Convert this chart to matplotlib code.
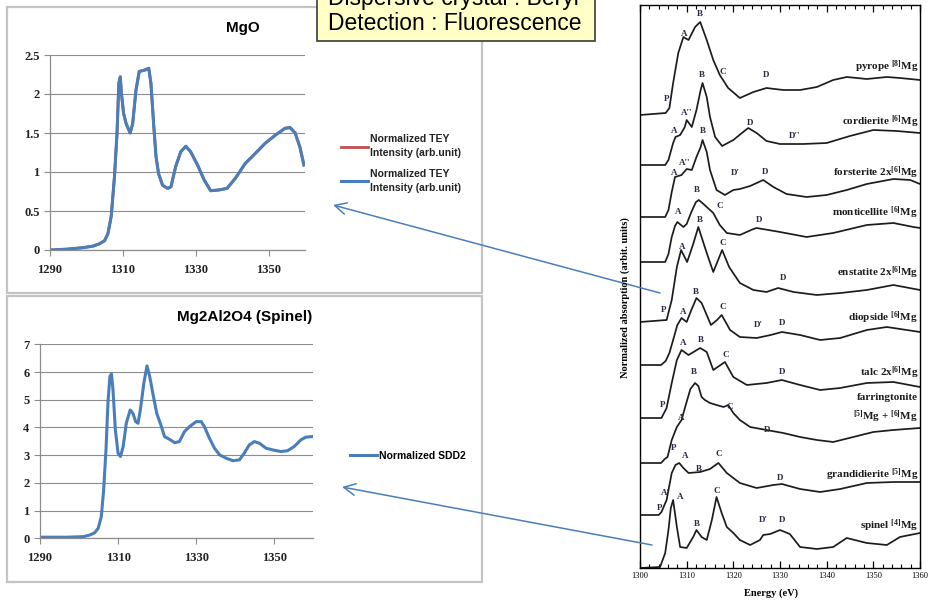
import matplotlib
matplotlib.use('Agg')
import matplotlib.pyplot as plt
from matplotlib.patches import Rectangle, FancyArrowPatch
from matplotlib.ticker import MultipleLocator, FormatStrFormatter
import numpy as np

plt.rcParams['mathtext.fontset'] = 'custom'
plt.rcParams['mathtext.rm'] = 'Liberation Serif:bold'
plt.rcParams['mathtext.it'] = 'Liberation Serif:italic:bold'
plt.rcParams['mathtext.bf'] = 'Liberation Serif:bold'

# ---- left top: MgO, TEY ----
mgo_e = [1290, 1294.5, 1299.1, 1301.8, 1303.6, 1305, 1305.9, 1306.8, 1307.7, 1308.4,
         1308.9, 1309.3, 1309.6, 1310.2, 1310.9, 1312, 1312.7, 1313.6, 1314.5, 1315.5,
         1316.2, 1317.1, 1317.7, 1318.5, 1319.1, 1319.8, 1320.9, 1322.3, 1323.2, 1324.5,
         1325.9, 1327.3, 1328.6, 1330.5, 1332.3, 1334.1, 1336.4, 1338.6, 1340.9, 1343.6,
         1346.4, 1349.1, 1351.8, 1354.5, 1355.9, 1357.3, 1358.6, 1359.7]
mgo_tey = [0, 0.01, 0.03, 0.05, 0.08, 0.12, 0.21, 0.43, 0.94, 1.5,
           2.14, 2.22, 2.01, 1.75, 1.62, 1.5, 1.62, 2.05, 2.29, 2.30,
           2.31, 2.33, 2.14, 1.58, 1.2, 0.98, 0.83, 0.79, 0.81, 1.07,
           1.26, 1.33, 1.26, 1.09, 0.9, 0.76, 0.77, 0.79, 0.92, 1.11,
           1.24, 1.37, 1.47, 1.56, 1.57, 1.50, 1.32, 1.09]

# ---- left bottom: spinel, SDD2 ----
sp_e = [1290, 1296.8, 1301.1, 1302.8, 1304, 1304.9, 1305.7, 1306.3, 1306.9, 1307.4,
        1307.9, 1308.3, 1308.7, 1309.3, 1310, 1310.6, 1311.3, 1312.1, 1313.1, 1313.8,
        1314.5, 1315.1, 1315.7, 1316.6, 1317.4, 1318.1, 1318.9, 1319.9, 1321.1, 1321.9,
        1323.2, 1324.5, 1325.7, 1327, 1328.3, 1330, 1331.3, 1332.1, 1333.4, 1334.7,
        1336, 1337.7, 1339.4, 1341.1, 1342.3, 1343.6, 1344.9, 1346.2, 1347.9, 1349.6,
        1351.7, 1353.4, 1355.1, 1356.8, 1358.1, 1359.8]
sp_sdd2 = [0.04, 0.04, 0.06, 0.12, 0.2, 0.36, 0.78, 1.74, 3.19, 4.87,
           5.84, 5.93, 5.35, 3.91, 3.07, 2.95, 3.31, 4.15, 4.63, 4.51,
           4.21, 4.15, 4.63, 5.6, 6.22, 5.84, 5.23, 4.51, 4.03, 3.67,
           3.57, 3.45, 3.49, 3.85, 4.03, 4.21, 4.21, 4.03, 3.61, 3.25,
           3.01, 2.89, 2.80, 2.83, 3.07, 3.37, 3.49, 3.43, 3.25, 3.19,
           3.13, 3.16, 3.31, 3.55, 3.65, 3.67]

# ---- right: reference Mg K-edge XANES (intensity above own pre-edge) ----
pyrope_e = [1300, 1305.5, 1306.3, 1307.1, 1308.2, 1309.3, 1310.4, 1311.8, 1312.9, 1314.3,
            1315.7, 1317.1, 1318.9, 1321.4, 1324.3, 1327.1, 1330.7, 1334.3, 1337.9, 1341.4,
            1344.3, 1348.6, 1352.9, 1355.7, 1360]
pyrope_y = [0, 2, 7, 32, 62, 78, 75, 88, 93, 75, 55, 40, 27, 17, 23, 27, 25, 25, 28, 35,
            38, 36, 38, 37, 35]
cordierite_e = [1300, 1305.4, 1306.1, 1307.1, 1307.6, 1308.6, 1309.6, 1310.0, 1311.1, 1312.1,
                1313.0, 1313.4, 1314.3, 1315.0, 1316.1, 1317.6, 1320, 1322.1, 1323.2, 1325.0,
                1327.1, 1330, 1335, 1340, 1345, 1350, 1355, 1360]
cordierite_y = [0, 0, 5, 22, 28, 30, 38, 45, 38, 55, 75, 82, 68, 48, 28, 19, 25, 33, 37, 32,
                24, 21, 21, 22, 29, 35, 34, 32]
forsterite_e = [1300, 1305.4, 1306.1, 1306.8, 1307.5, 1308.9, 1310, 1311.1, 1312.1, 1313.0,
                1313.4, 1314.3, 1315, 1316.4, 1318.2, 1320, 1321.4, 1323.6, 1326.4, 1328.6,
                1331.4, 1335.7, 1340, 1344.3, 1348.6, 1354.3, 1357.9, 1360]
forsterite_y = [0, 0, 7, 25, 40, 42, 48, 47, 60, 70, 77, 65, 47, 27, 22, 27, 28, 31, 37, 30,
                23, 20, 22, 27, 33, 38, 37, 33]
monticellite_e = [1300, 1305.4, 1306.1, 1306.8, 1307.5, 1308, 1309.3, 1310, 1311, 1312,
                  1312.6, 1313.6, 1315, 1315.7, 1317.1, 1318.6, 1321.4, 1324.3, 1325, 1330,
                  1335.7, 1341.4, 1348.6, 1354.3, 1358.6, 1360]
monticellite_y = [0, 0, 8, 25, 36, 40, 35, 38, 50, 60, 62, 58, 52, 49, 37, 29, 27, 33, 34, 30,
                  25, 29, 37, 39, 35, 34]
enstatite_e = [1300, 1305.7, 1306.8, 1307.9, 1308.8, 1310.1, 1311.4, 1312.5, 1314.3, 1315.7,
               1317.6, 1319.1, 1321.4, 1324.3, 1327.1, 1329.6, 1332.9, 1337.9, 1343, 1348.6,
               1354.3, 1360]
enstatite_y = [0, 2, 22, 55, 72, 60, 78, 95, 69, 50, 72, 55, 39, 32, 30, 34, 30, 27, 29, 32,
               37, 32]
diopside_e = [1300, 1304.5, 1305.5, 1306.3, 1307.1, 1308, 1308.9, 1310, 1311, 1312.1,
              1313.2, 1314.3, 1315.2, 1316.5, 1317.5, 1319.3, 1321.4, 1325, 1328, 1330.4,
              1334.3, 1338.6, 1342.9, 1348.6, 1352.9, 1360]
diopside_y = [0, 0, 4, 12, 25, 40, 47, 43, 55, 67, 62, 50, 40, 45, 50, 35, 28, 27, 30, 33,
              30, 25, 27, 35, 38, 33]
talc_e = [1300, 1304.6, 1305.7, 1306.8, 1307.9, 1308.9, 1310.4, 1312.9, 1314.3, 1315.7,
          1318.2, 1320, 1322.9, 1327.1, 1330.4, 1334.3, 1338.6, 1342.9, 1348.6, 1354.3, 1360]
talc_y = [0, 0, 10, 35, 58, 68, 63, 70, 66, 48, 56, 41, 33, 35, 38, 33, 28, 30, 35, 36, 31]
farringtonite_e = [1300, 1304.5, 1305.3, 1305.9, 1306.8, 1307.9, 1308.9, 1309.8, 1310.8, 1311.8,
                   1312.5, 1313.2, 1313.9, 1315, 1316.4, 1317.9, 1318.9, 1320, 1321.4, 1323.6,
                   1327.1, 1330.7, 1334.3, 1337.9, 1341.4, 1345.7, 1350, 1354.3, 1360]
farringtonite_y = [0, 0, 4, 6, 23, 36, 43, 58, 74, 80, 77, 66, 63, 60, 58, 56, 58, 50, 43, 36,
                   33, 30, 26, 23, 21, 26, 31, 33, 35]
grandidierite_e = [1300, 1304, 1304.6, 1305.7, 1306.8, 1307.6, 1308.4, 1309.3, 1310.4, 1312.9,
                   1315, 1316.8, 1318.6, 1321.4, 1325, 1328.6, 1330.4, 1334.3, 1338.6, 1342.9,
                   1348.6, 1354.3, 1360]
grandidierite_y = [0, 0, 3, 15, 42, 50, 52, 47, 42, 43, 46, 52, 42, 32, 27, 30, 31, 26, 23, 26,
                   32, 33, 33]
spinel_e = [1300, 1304.3, 1305.4, 1306.1, 1306.6, 1307.1, 1307.9, 1308.6, 1310, 1311.4,
            1312.1, 1313.2, 1314.3, 1315.4, 1316.4, 1317.5, 1318.6, 1320, 1321.4, 1323.6,
            1325.7, 1326.4, 1327.9, 1330, 1332.1, 1334.3, 1337.9, 1341.4, 1344.3, 1348.6,
            1352.9, 1355.7, 1360]
spinel_y = [0, 1, 15, 38, 60, 68, 41, 21, 20, 31, 38, 31, 28, 48, 71, 55, 41, 35, 28, 23,
            28, 33, 34, 38, 34, 21, 19, 21, 30, 25, 23, 31, 35]

stack_offsets = [453, 403, 351, 306, 246, 203, 150, 105, 53, 0]
mineral_names = ['pyrope $^{[8]}$Mg', 'cordierite $^{[6]}$Mg', 'forsterite 2x$^{[6]}$Mg',
                 'monticellite $^{[6]}$Mg', 'enstatite 2x$^{[6]}$Mg', 'diopside $^{[6]}$Mg',
                 'talc 2x$^{[6]}$Mg', 'farringtonite\n$^{[5]}$Mg + $^{[6]}$Mg',
                 'grandidierite $^{[5]}$Mg', 'spinel $^{[4]}$Mg']
name_heights = [501, 446, 395, 355, 295, 250, 195, 159, 93, 42]

# peak letters: (letter, energy, height)
peak_labels = [
    ('P', 1305.6, 469), ('A', 1309.4, 534), ('B', 1312.9, 554), ('C', 1317.8, 496), ('D', 1327.0, 493),
    ('A', 1307.3, 437), ("A''", 1309.9, 455), ('B', 1313.3, 493), ('D', 1323.6, 445), ("D''", 1333.2, 432),
    ('A', 1307.3, 395), ("A''", 1309.6, 405), ('B', 1313.5, 437), ("D'", 1320.4, 395), ('D', 1326.8, 396),
    ('A', 1308.1, 356), ('B', 1312.2, 378), ('C', 1317.1, 362), ('D', 1325.5, 348),
    ('A', 1309.0, 321), ('B', 1312.9, 348), ('C', 1317.8, 325), ('D', 1330.6, 290),
    ('P', 1305.1, 258), ('A', 1309.2, 256), ('B', 1312.0, 276), ('C', 1317.8, 261), ("D'", 1325.3, 243), ('D', 1330.4, 245),
    ('A', 1309.2, 225), ('B', 1313.1, 228), ('C', 1318.4, 213), ('D', 1330.4, 196),
    ('P', 1304.9, 163), ('A', 1308.8, 150), ('B', 1311.6, 196), ('C', 1319.3, 161), ('D', 1327.2, 138),
    ('P', 1307.1, 120), ('A', 1309.6, 112), ('B', 1312.6, 99), ('C', 1316.9, 114), ('D', 1330.0, 90),
    ('P', 1304.3, 60), ("A'", 1305.4, 75), ('A', 1308.6, 71), ('B', 1312.2, 44), ('C', 1316.5, 77),
    ("D'", 1326.4, 48), ('D', 1330.4, 48),
]

W, H = 933, 604


def fxy(px, py):
    return px / W, 1 - py / H


fig = plt.figure(figsize=(W / 100, H / 100), dpi=100)

# chart frames on the left
for x0, y0, x1, y1 in [(7, 7, 482, 293), (7, 296, 482, 582)]:
    fig.add_artist(Rectangle(fxy(x0, y1), (x1 - x0) / W, (y1 - y0) / H,
                             transform=fig.transFigure, fill=False,
                             ec='#c4c4c4', lw=1.6))

excel_blue = '#4a7ebb'
grey = '#8c8c8c'
tick_font = dict(family='Liberation Serif', size=9)


def excel_axes(ax):
    for s in ['top', 'right']:
        ax.spines[s].set_visible(False)
    for s in ['left', 'bottom']:
        ax.spines[s].set_color(grey)
        ax.spines[s].set_linewidth(0.9)
    ax.yaxis.grid(True, color=grey, lw=0.8)
    ax.set_axisbelow(True)
    ax.tick_params(colors=grey, labelcolor='#222222', length=4, width=0.8)
    for lab in ax.get_xticklabels() + ax.get_yticklabels():
        lab.set_fontfamily(tick_font['family'])
        lab.set_fontsize(tick_font['size'])
        lab.set_fontweight('bold')
    ax.tick_params(axis='x', pad=6)


# MgO
ax1 = fig.add_axes([50 / W, 1 - 250 / H, 255 / W, 195 / H])
l_red, = ax1.plot(mgo_e, mgo_tey, color='#c0504d', lw=2.0)
l_blue, = ax1.plot(mgo_e, mgo_tey, color=excel_blue, lw=2.2)
ax1.set_xlim(1290, 1360)
ax1.set_ylim(0, 2.5)
ax1.set_xticks([1290, 1310, 1330, 1350])
ax1.set_yticks(np.arange(0, 2.51, 0.5))
ax1.yaxis.set_major_formatter(FormatStrFormatter('%g'))
excel_axes(ax1)
fig.text(*fxy(243, 28), 'MgO', ha='center', va='center', family='Liberation Sans',
         weight='bold', size=11)
leg1 = ax1.legend([l_red, l_blue],
                  ['Normalized TEY\nIntensity (arb.unit)', 'Normalized TEY\nIntensity (arb.unit)'],
                  loc='upper left', bbox_to_anchor=fxy(336, 129), bbox_transform=fig.transFigure,
                  frameon=False, handlelength=2.6, handletextpad=0.15, labelspacing=1.0,
                  borderpad=0, prop=dict(family='Liberation Sans', weight='bold', size=7.5))
for t in leg1.get_texts():
    t.set_color('#222222')
    t.set_linespacing(1.5)

# Spinel
ax2 = fig.add_axes([40 / W, 1 - 538.3 / H, 273.3 / W, 194 / H])
l_sdd, = ax2.plot(sp_e, sp_sdd2, color=excel_blue, lw=2.2)
ax2.set_xlim(1290, 1360)
ax2.set_ylim(0, 7)
ax2.set_xticks([1290, 1310, 1330, 1350])
ax2.set_yticks(range(0, 8))
excel_axes(ax2)
fig.text(*fxy(245, 317), 'Mg2Al2O4 (Spinel)', ha='center', va='center',
         family='Liberation Sans', weight='bold', size=11)
ax2.legend([l_sdd], ['Normalized SDD2'], loc='center left', bbox_to_anchor=fxy(345, 456),
           bbox_transform=fig.transFigure, frameon=False, handlelength=2.6,
           handletextpad=0.15, borderpad=0,
           prop=dict(family='Liberation Sans', weight='bold', size=7.5))

# reference spectra
axr = fig.add_axes([640 / W, 1 - 568 / H, 280 / W, 563 / H])
spectra = [(pyrope_e, pyrope_y), (cordierite_e, cordierite_y), (forsterite_e, forsterite_y),
           (monticellite_e, monticellite_y), (enstatite_e, enstatite_y), (diopside_e, diopside_y),
           (talc_e, talc_y), (farringtonite_e, farringtonite_y),
           (grandidierite_e, grandidierite_y), (spinel_e, spinel_y)]
for (e, y), off in zip(spectra, stack_offsets):
    axr.plot(e, np.array(y) + off, color='#1c1c1c', lw=1.25, solid_joinstyle='round')
for name, h in zip(mineral_names, name_heights):
    axr.text(1359.6, h, name, ha='right', va='center', family='Liberation Serif',
             weight='bold', size=8, color='#1c1c1c', linespacing=1.6)
for s, e, h in peak_labels:
    axr.text(e, h, s, ha='center', va='center', family='Liberation Serif',
             weight='bold', size=6.5, color='#2a2a44')
axr.set_xlim(1300, 1360)
axr.set_ylim(0, 563)
axr.set_yticks([])
axr.xaxis.set_major_locator(MultipleLocator(10))
axr.xaxis.set_minor_locator(MultipleLocator(2))
axr.tick_params(axis='x', which='both', direction='in', top=True, labelsize=6, pad=3)
axr.tick_params(axis='x', which='major', length=5, width=0.9)
axr.tick_params(axis='x', which='minor', length=3, width=0.8)
for lab in axr.get_xticklabels():
    lab.set_fontfamily('Liberation Serif')
for s in axr.spines.values():
    s.set_linewidth(1.0)
fig.text(*fxy(771, 593), 'Energy (eV)', ha='center', va='center', family='Liberation Serif',
         weight='bold', size=7.5)
fig.text(*fxy(625, 298), 'Normalized absorption (arbit. units)', ha='center', va='center',
         rotation=90, family='Liberation Serif', weight='bold', size=7.5)

# note box at the top
fig.add_artist(Rectangle(fxy(317, 41), (595 - 317) / W, 60 / H, transform=fig.transFigure,
                         fc='#ffffc8', ec='#3a3a3a', lw=1.2))
fig.text(*fxy(328, 5), 'Dispersive crystal : Beryl', va='baseline', family='Liberation Sans',
         size=16.5)
fig.text(*fxy(328, 30), 'Detection : Fluorescence', va='baseline', family='Liberation Sans',
         size=16.5)

# arrows from reference spectra to the measured ones
for start, end in [((660, 293), (333, 205)), ((652, 545), (342, 487))]:
    fig.add_artist(FancyArrowPatch(posA=fxy(*start), posB=fxy(*end), transform=fig.transFigure,
                                   arrowstyle='->,head_length=0.7,head_width=0.35',
                                   mutation_scale=12, color=excel_blue, lw=1.1,
                                   shrinkA=0, shrinkB=0))

fig.savefig('out.png', dpi=100)
